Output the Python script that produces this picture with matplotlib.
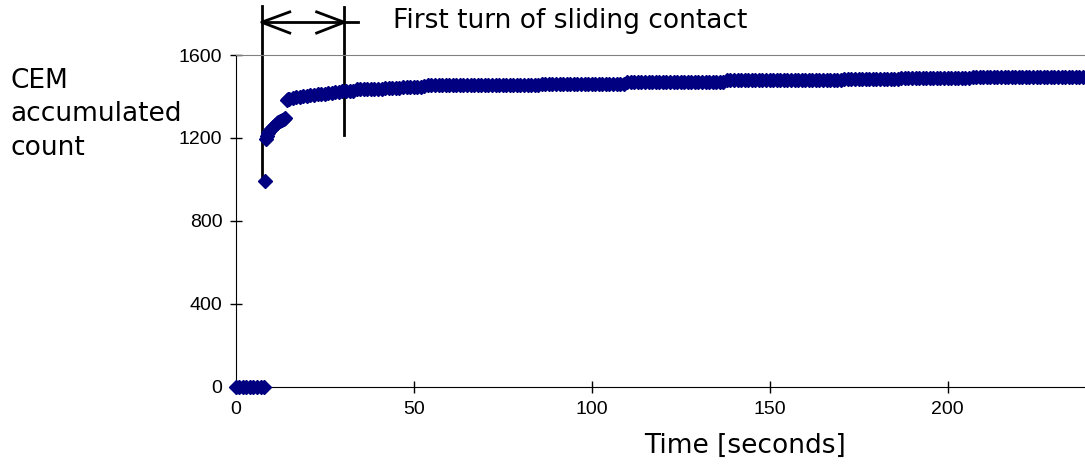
import numpy as np
import matplotlib.pyplot as plt

# early part of the record (s, counts)
t_early = [0, 1, 2, 3, 4, 5, 6, 7, 8, 8.2, 8.4, 8.7, 9, 9.5, 10, 10.5, 11,
           11.5, 12, 12.5, 13, 13.5, 14, 14.3, 14.6, 15]
c_early = [0, 0, 0, 0, 0, 0, 0, 0, 0, 990, 1195, 1210, 1225, 1235, 1245, 1255,
           1262, 1270, 1276, 1282, 1288, 1292, 1296, 1384, 1388, 1390]

# later part, one reading per second from t=16 to t=238
t_late = np.arange(16, 239)
c_late = [1393, 1396, 1398, 1400, 1402, 1405, 1408, 1410, 1412, 1414,
          1416, 1418, 1420, 1422, 1424, 1425, 1426, 1428, 1434, 1435,
          1435, 1436, 1436, 1437, 1437, 1438, 1442, 1443, 1443, 1443,
          1443, 1444, 1444, 1444, 1445, 1446, 1447, 1450,
          1453, 1453, 1453, 1453, 1453, 1453, 1453, 1453, 1453, 1453,
          1454, 1454, 1454, 1454, 1454, 1454, 1454, 1454, 1454, 1454, 1454, 1454,
          1455, 1455, 1455, 1455, 1455, 1455, 1455, 1455, 1455, 1455,
          1459, 1459, 1459, 1459, 1459, 1459, 1459, 1459,
          1460, 1460, 1460, 1460, 1460, 1460, 1460, 1460,
          1461, 1461, 1461, 1461, 1461, 1461, 1461, 1461,
          1470, 1470, 1470, 1470, 1470, 1470, 1470, 1470, 1470, 1470, 1470, 1470, 1470, 1470,
          1471, 1471, 1471, 1471, 1471, 1471, 1471, 1471, 1471, 1471, 1471, 1471, 1471, 1471,
          1480, 1480, 1480, 1480, 1480, 1480, 1480, 1480, 1480, 1480, 1480, 1480, 1480, 1480,
          1480, 1480,
          1481, 1481, 1481, 1481, 1481, 1481, 1481, 1481, 1481, 1481, 1481, 1481, 1481, 1481,
          1481, 1481, 1481,
          1482, 1482, 1482, 1482, 1482, 1482, 1482, 1482, 1482, 1482, 1482, 1482, 1482, 1482,
          1482, 1482,
          1491, 1491, 1491, 1491, 1491, 1491, 1491, 1491, 1491, 1491, 1491, 1491, 1491, 1491,
          1491, 1491, 1491, 1491, 1491, 1491,
          1492, 1492, 1492, 1492, 1492, 1492, 1492, 1492, 1492, 1492, 1492, 1492, 1492, 1492,
          1492, 1492, 1492, 1492, 1492, 1492, 1492, 1492, 1492, 1492, 1492, 1492, 1492, 1492,
          1492, 1492, 1492, 1492]

x_ticks = [0, 50, 100, 150, 200]
y_ticks = [0, 400, 800, 1200, 1600]

t = np.concatenate([t_early, t_late])
c = np.concatenate([c_early, c_late])

fig = plt.figure(figsize=(10.85, 4.65), dpi=100)
ax = fig.add_axes([0.2172, 0.1684, 0.7828, 0.7133])

ax.plot(t, c, linestyle='none', marker='D', markersize=7,
        markerfacecolor='#000080', markeredgecolor='#000080', clip_on=False, zorder=3)

ax.set_xlim(0, 238.6)
ax.set_ylim(0, 1600)
ax.set_xticks(x_ticks)
ax.set_yticks(y_ticks)
ax.tick_params(direction='inout', length=9, width=1, labelsize=14)
ax.tick_params(axis='x', pad=6)
ax.tick_params(axis='y', pad=5)
for lab in ax.get_xticklabels() + ax.get_yticklabels():
    lab.set_fontfamily('Liberation Sans')

ax.spines['right'].set_visible(False)
ax.spines['top'].set_color('#808080')
ax.spines['left'].set_color('black')
ax.spines['bottom'].set_color('black')

# annotation: first turn of sliding contact (vertical markers, double arrow)
lw = 2
ax.plot([7.3, 7.3], [1009, 1838], color='black', lw=lw, clip_on=False)
ax.plot([30.5, 30.5], [1213, 1832], color='black', lw=lw, clip_on=False)
ax.plot([7.3, 34.4], [1758, 1758], color='black', lw=lw, clip_on=False)
ax.plot([15.2, 7.3, 15.2], [1808, 1758, 1706], color='black', lw=lw, clip_on=False)
ax.plot([22.75, 30.5, 22.75], [1808, 1758, 1706], color='black', lw=lw, clip_on=False)
ax.text(44.2, 1764, 'First turn of sliding contact', fontsize=19,
        ha='left', va='center', fontfamily='DejaVu Sans')

fig.text(10 / 1085, 1 - 88 / 465, 'CEM', fontsize=19,
         ha='left', va='baseline', fontfamily='DejaVu Sans')
fig.text(10 / 1085, 1 - 121 / 465, 'accumulated', fontsize=19,
         ha='left', va='baseline', fontfamily='DejaVu Sans')
fig.text(10 / 1085, 1 - 155 / 465, 'count', fontsize=19,
         ha='left', va='baseline', fontfamily='DejaVu Sans')
fig.text(745 / 1085, 1 - 446 / 465, 'Time [seconds]', fontsize=19,
         ha='center', va='center', fontfamily='DejaVu Sans')

fig.savefig('out.png', dpi=100)
